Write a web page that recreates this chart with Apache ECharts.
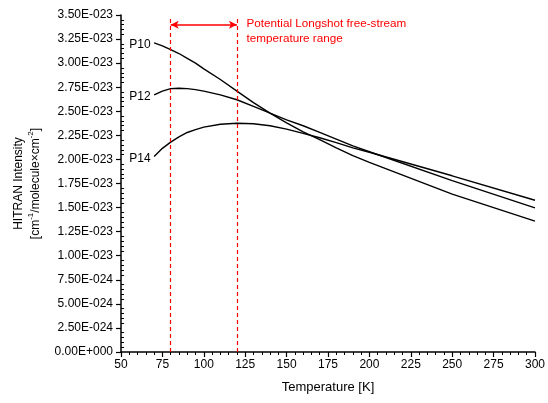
<!DOCTYPE html>
<html>
<head>
<meta charset="utf-8">
<script src="https://cdn.jsdelivr.net/npm/echarts@6/dist/echarts.min.js"></script>
<style>
  html, body { margin: 0; padding: 0; background: #fff; }
  #chart { width: 548px; height: 403px; }
</style>
</head>
<body>
<div id="chart"></div>
<script>
// Temperature grid [K]
const temperature = [70, 75, 80, 85, 90, 95, 100, 110, 120, 130, 140, 150, 160, 170, 180, 190, 200, 250, 300];
// HITRAN line intensities, in units of 1E-23 cm^-1/(molecule*cm^-2)
const p10 = [3.21, 3.18, 3.14, 3.10, 3.05, 3.00, 2.94, 2.83, 2.71, 2.59, 2.48, 2.38, 2.285, 2.205, 2.12, 2.04, 1.97, 1.64, 1.36];
const p12 = [2.67, 2.71, 2.735, 2.74, 2.735, 2.725, 2.71, 2.67, 2.62, 2.55, 2.48, 2.41, 2.35, 2.28, 2.21, 2.14, 2.08, 1.78, 1.496];
const p14 = [2.03, 2.115, 2.18, 2.235, 2.28, 2.31, 2.335, 2.365, 2.375, 2.37, 2.35, 2.315, 2.27, 2.225, 2.175, 2.12, 2.075, 1.83, 1.576];
const seriesNames = ['P10', 'P12', 'P14'];
// Free-stream temperature range [K] and the height of its bracket
const rangeLow = 80, rangeHigh = 120;
const rangeTop = 3.46, bracketLevel = 3.40;
const rangeNote = 'Potential Longshot free-stream\ntemperature range';

const FONT = '"Liberation Sans", Arial, sans-serif';

function sciLabel(v) {
  if (Math.abs(v) < 1e-9) return '0.00E+000';
  let m = v, e = -23;
  if (v < 1) { m = v * 10; e = -24; }
  return m.toFixed(2) + 'E' + (e < 0 ? '-' : '+') + String(Math.abs(e)).padStart(3, '0');
}

// invisible anchor symbol that only carries a text label
const hiddenSymbol = { symbol: 'circle', symbolSize: 1, itemStyle: { color: 'rgba(0,0,0,0)' } };

function makeSeries(name, values) {
  const data = temperature.map((t, i) => [t, values[i]]);
  return {
    name, type: 'line', data, showSymbol: false, symbol: 'none',
    lineStyle: { color: '#000', width: 1.4 }, smooth: false,
    z: 3, silent: true,
    markPoint: Object.assign({
      silent: true, animation: false,
      label: { show: true, position: 'left', distance: 3, formatter: name,
               color: '#000', fontFamily: FONT, fontSize: 12, offset: [0, 2] },
      data: [{ coord: data[0] }]
    }, hiddenSymbol)
  };
}

const chart = echarts.init(document.getElementById('chart'), null, { renderer: 'canvas' });
const series = seriesNames.map((n, i) => makeSeries(n, [p10, p12, p14][i]));

// dashed red range limits
series.push({
  type: 'line', data: [], silent: true,
  markLine: {
    silent: true, symbol: 'none', animation: false,
    lineStyle: { color: '#ff0000', type: [4, 3], width: 1.2 },
    label: { show: false },
    data: [
      [{ coord: [rangeLow, 0] }, { coord: [rangeLow, rangeTop] }],
      [{ coord: [rangeHigh, 0] }, { coord: [rangeHigh, rangeTop] }]
    ]
  }
});
// double-headed bracket across the range, with its note
series.push({
  type: 'line', data: [], silent: true,
  markLine: {
    silent: true, symbol: ['arrow', 'arrow'], symbolSize: [6, 8], animation: false,
    lineStyle: { color: '#ff0000', type: 'solid', width: 1.5 },
    label: { show: false },
    data: [[{ coord: [rangeLow, bracketLevel] }, { coord: [rangeHigh, bracketLevel] }]]
  },
  markPoint: Object.assign({
    silent: true, animation: false,
    label: {
      show: true, position: 'right', distance: 0, align: 'left', verticalAlign: 'middle',
      formatter: rangeNote,
      color: '#ff0000', fontFamily: FONT, fontSize: 11.7, lineHeight: 15
    },
    data: [{ coord: [rangeHigh + 5.5, 3.33] }]
  }, hiddenSymbol)
});

const axisText = { color: '#000', fontFamily: FONT };

chart.setOption({
  animation: false,
  backgroundColor: '#fff',
  grid: { left: 121, right: 10, top: 15, bottom: 51, containLabel: false },
  xAxis: {
    type: 'value', min: 50, max: 300, interval: 25,
    name: 'Temperature [K]', nameLocation: 'middle', nameGap: 29,
    nameTextStyle: Object.assign({ fontSize: 13 }, axisText),
    axisLine: { lineStyle: { color: '#000', width: 1.5 } },
    axisTick: { show: true, length: 5, lineStyle: { color: '#000', width: 1.2 } },
    minorTick: { show: true, splitNumber: 5, length: 3, lineStyle: { color: '#000', width: 1 } },
    axisLabel: Object.assign({ fontSize: 12, margin: 7 }, axisText),
    splitLine: { show: false }
  },
  yAxis: [{
    type: 'value', min: 0, max: 3.5, interval: 0.25,
    name: '{t|HITRAN Intensity}\n{t|[cm}{s|-1}{t|/molecule×cm}{s|-2}{t|]}',
    nameLocation: 'middle', nameGap: 77, nameRotate: 90,
    nameTextStyle: {
      fontFamily: FONT, color: '#000', fontSize: 12, lineHeight: 17,
      rich: {
        t: { fontFamily: FONT, color: '#000', fontSize: 12, lineHeight: 17 },
        s: { fontFamily: FONT, color: '#000', fontSize: 8, verticalAlign: 'top', lineHeight: 17, padding: [0, 0, 6, 0] }
      }
    },
    axisLine: { lineStyle: { color: '#000', width: 1.5 } },
    axisTick: { show: true, length: 5, lineStyle: { color: '#000', width: 1.2 } },
    minorTick: { show: false },
    axisLabel: Object.assign({ fontSize: 12, margin: 8, formatter: sciLabel }, axisText),
    splitLine: { show: false }
  }, {
    // minor ticks drawn on the inner side of the left axis
    type: 'value', min: 0, max: 3.5, interval: 0.25, position: 'left',
    axisLine: { show: false },
    axisTick: { show: false, inside: true },
    minorTick: { show: true, splitNumber: 5, length: 3, lineStyle: { color: '#000', width: 1 } },
    axisLabel: { show: false },
    splitLine: { show: false }
  }],
  series
});
</script>
</body>
</html>
